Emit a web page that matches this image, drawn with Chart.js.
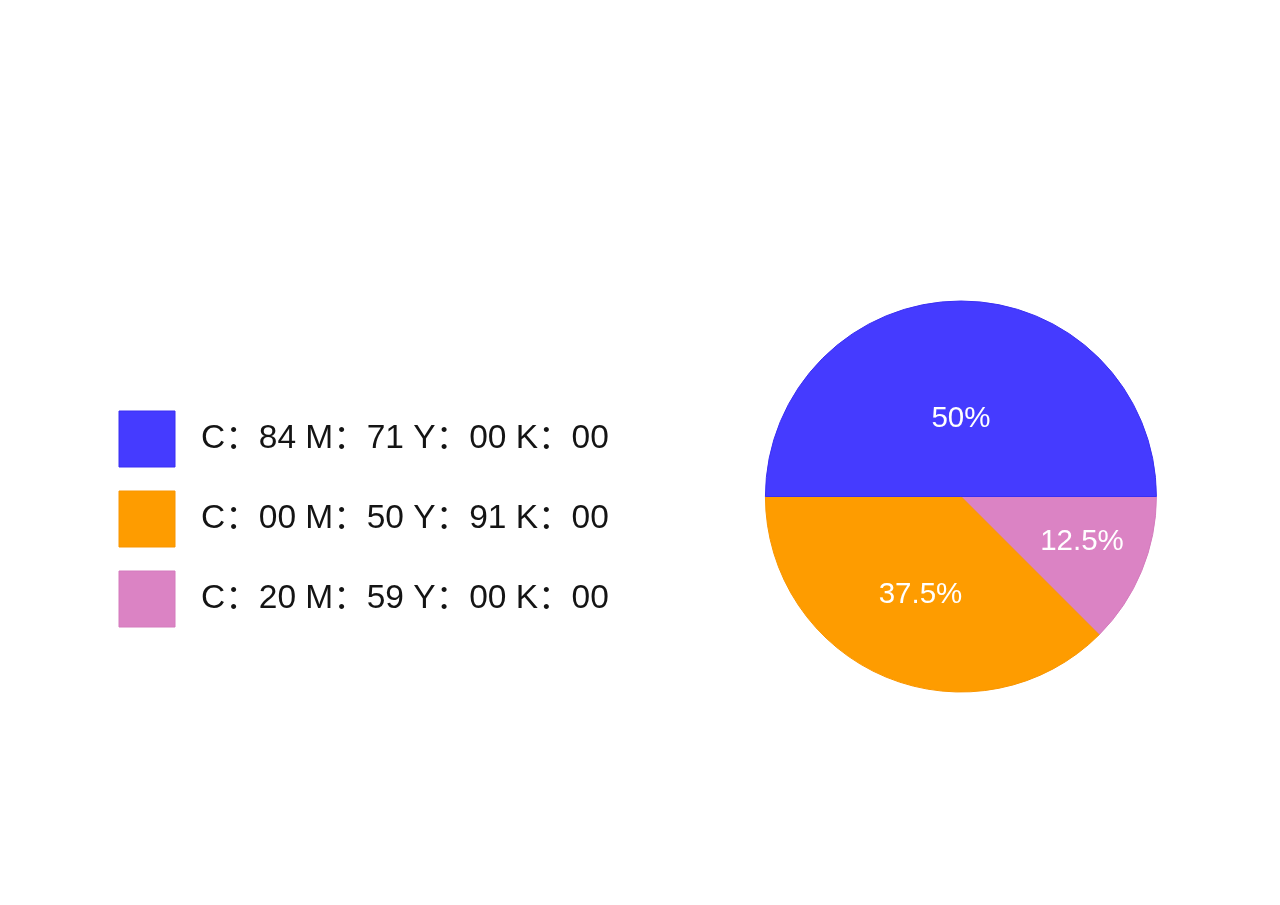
<!DOCTYPE html>
<html>
<head>
<meta charset="utf-8">
<script src="https://cdn.jsdelivr.net/npm/chart.js@4"></script>
<style>
  html, body { margin: 0; padding: 0; background: #fff; overflow: hidden; }
  #wrap { width: 1280px; height: 905px; overflow: hidden; }
</style>
</head>
<body>
<div id="wrap"><canvas id="pieChart" width="1303" height="905"></canvas></div>
<script>
// datos (orden horario desde las 3 en punto)
const labels = [" C：20 M：59 Y：00 K：00", " C：00 M：50 Y：91 K：00", " C：84 M：71 Y：00 K：00"];
const values = [12.5, 37.5, 50];
const fillColors = ["#db83c4", "#fe9c00", "#453bff"];
const edgeColors = ["#d47bbd", "#f89500", "#3a2ff2"];
// distancia de cada etiqueta al centro (fracción del radio)
const labelRadius = [0.66, 0.54, 0.40];

const FONT = "'Liberation Sans', Arial, 'Noto Sans CJK SC', sans-serif";

const sliceLabels = {
    id: "sliceLabels",
    afterDatasetsDraw(chart) {
        const { ctx } = chart;
        const meta = chart.getDatasetMeta(0);
        const total = values.reduce((a, b) => a + b, 0);
        ctx.save();
        ctx.fillStyle = "#ffffff";
        ctx.font = "29.5px " + FONT;
        ctx.textAlign = "center";
        ctx.textBaseline = "middle";
        meta.data.forEach((arc, i) => {
            const p = arc.getProps(["x", "y", "startAngle", "endAngle", "outerRadius"], true);
            // la etiqueta pequeña va un poco más arriba en el original
            const mid = (p.startAngle + p.endAngle) / 2 - (i === 0 ? 0.04 : 0);
            const r = p.outerRadius * labelRadius[i];
            const txt = (values[i] / total * 100) + "%";
            ctx.fillText(txt, p.x + Math.cos(mid) * r, p.y + Math.sin(mid) * r + 1);
        });
        ctx.restore();
    }
};

new Chart(document.getElementById("pieChart"), {
    type: "pie",
    data: {
        labels: labels,
        datasets: [{
            data: values,
            backgroundColor: fillColors,
            borderColor: edgeColors,
            borderWidth: 1,
            radius: 195.5
        }]
    },
    options: {
        responsive: false,
        animation: false,
        events: [],
        rotation: 90,
        layout: { padding: { left: 95, right: 0, top: 88, bottom: 0 } },
        plugins: {
            tooltip: { enabled: false },
            legend: {
                position: "left",
                reverse: true,
                title: { display: true, text: " ", font: { size: 10, lineHeight: 1 }, padding: { top: 0, bottom: 35 } },
                labels: {
                    boxWidth: 56,
                    boxHeight: 56,
                    padding: 24,
                    color: "#141414",
                    font: { family: FONT, size: 33.5 }
                }
            }
        }
    },
    plugins: [sliceLabels]
});
</script>
</body>
</html>
